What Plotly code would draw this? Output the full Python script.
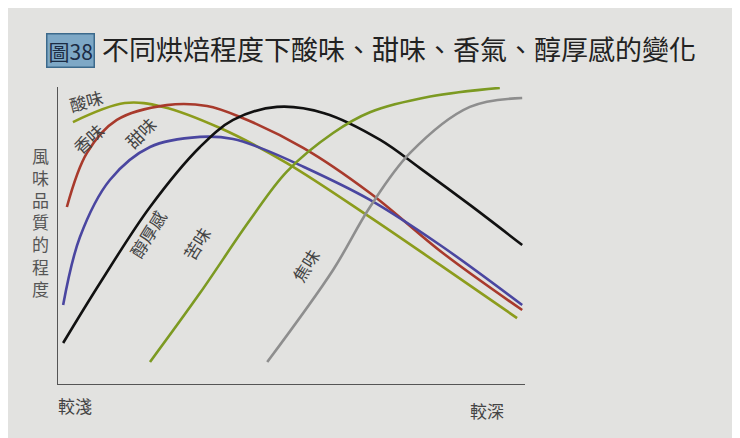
import plotly.graph_objects as go

# roast degree (0 = light, 100 = dark) vs flavour intensity (0-100)
sour_x = [3.2, 14.3, 22.5, 34.7, 49, 66.8, 81.8, 98.3]
sour_y = [88.2, 94.6, 93.3, 86.2, 74.4, 56.2, 40.1, 22.2]
aroma_x = [1.9, 6.2, 12.6, 23.3, 31.9, 39, 52.5, 66.8, 82.4, 99.4]
aroma_y = [59.6, 77.8, 88.9, 93.9, 93.6, 89.9, 79.5, 64.3, 44.1, 24.9]
sweet_x = [1.1, 4.7, 11.1, 19.7, 30.4, 37.5, 43.3, 51.8, 66.8, 81.8, 99.4]
sweet_y = [26.6, 49.5, 68.7, 79.8, 83.2, 82.5, 79.5, 73.7, 62, 46.8, 26.6]
body_x = [1.1, 9, 19.7, 30.4, 37.5, 46.9, 57, 69, 77.5, 88.2, 99.4]
body_y = [13.8, 34, 59.6, 79.8, 88.9, 93.3, 91.2, 82.2, 72.7, 60.3, 46.8]
bitter_x = [19.7, 30.4, 41.1, 49, 58.9, 66.8, 79.7, 94.6]
bitter_y = [7.4, 30.6, 55.2, 71.5, 84.5, 91.5, 96.8, 99.7]
burnt_x = [44.8, 58.9, 66.8, 75.4, 88.2, 99.4]
burnt_y = [7.4, 38.4, 59.6, 77.8, 93.3, 96.3]

series = [
    (sour_x, sour_y, "#8c9c1c"),
    (aroma_x, aroma_y, "#a83a2c"),
    (sweet_x, sweet_y, "#4a46a0"),
    (body_x, body_y, "#111111"),
    (bitter_x, bitter_y, "#7c9a22"),
    (burnt_x, burnt_y, "#8e8e8e"),
]

fig = go.Figure()
for xs, ys, c in series:
    fig.add_trace(go.Scatter(x=xs, y=ys, mode="lines", line=dict(color=c, width=2.6, shape="spline"),
                             showlegend=False, hoverinfo="skip"))

font = "Noto Sans CJK TC"


def dx(px):
    return (px - 58) / 467


def dy(py):
    return (384 - py) / 297


def note(text, px, py, size=17, color="#444", xanchor="center", **kw):
    fig.add_annotation(text=text, x=dx(px), y=dy(py), xref="paper", yref="paper",
                       xanchor=xanchor, yanchor="middle", showarrow=False,
                       font=dict(family=font, size=size, color=color), **kw)


labels = [("酸味", 86, 100, -15), ("香味", 88, 138, -42), ("甜味", 140, 132, -45),
          ("醇厚感", 147, 234, -58), ("苦味", 196, 243, -58), ("焦味", 305, 265, -58)]
for t, px, py, rot in labels:
    note(t, px, py, textangle=rot)

note("風<br>味<br>品<br>質<br>的<br>程<br>度", 40, 222, color="#555")
note("較淺", 75, 405)
note("較深", 487, 410)
note("圖38", 95, 50, size=21, color="#1c2c44", xanchor="right", bgcolor="#7ea8c6",
     bordercolor="#3c6a8c", borderwidth=1.5, borderpad=1)
note("不同烘焙程度下酸味、甜味、香氣、醇厚感的變化", 100, 49, size=27, color="#222", xanchor="left")

fig.update_xaxes(range=[0, 100], showline=True, linecolor="#555", linewidth=1.2,
                 showgrid=False, zeroline=False, showticklabels=False, ticks="")
fig.update_yaxes(range=[0, 100], showline=True, linecolor="#555", linewidth=1.2,
                 showgrid=False, zeroline=False, showticklabels=False, ticks="")
fig.update_layout(width=740, height=438, margin=dict(l=50, r=223, t=79, b=62),
                  paper_bgcolor="#e2e2e0", plot_bgcolor="#e2e2e0")
fig.write_html("out.html")
